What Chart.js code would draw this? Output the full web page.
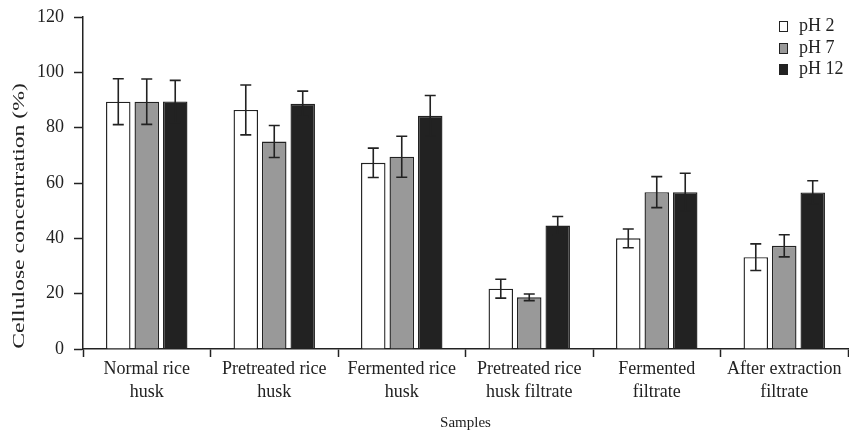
<!DOCTYPE html>
<html>
<head>
<meta charset="utf-8">
<script src="https://cdn.jsdelivr.net/npm/chart.js@4.4.0/dist/chart.umd.min.js"></script>
<style>
	body { margin: 0; background: #fff; }
	#wrap { position: relative; width: 849px; height: 432px; }
	#legend { position: absolute; left: 779px; top: 15px; font-family: "Liberation Serif", serif; font-size: 18px; color: #222; }
	#legend div { height: 21.5px; line-height: 21.5px; white-space: nowrap; }
	#legend span { display: inline-block; width: 7px; height: 9px; border: 1.3px solid #222; margin-right: 11px; vertical-align: -1px; }
</style>
</head>
<body>
<div id="wrap">
	<canvas id="myCanvas" width="849" height="432"></canvas>
	<div id="legend"></div>
</div>
<script>
const samples = [
	["Normal rice", "husk"],
	["Pretreated rice", "husk"],
	["Fermented rice", "husk"],
	["Pretreated rice", "husk filtrate"],
	["Fermented", "filtrate"],
	["After extraction", "filtrate"],
];

const ph2 = [89.4, 86.4, 67.3, 21.8, 40.0, 33.2];
const ph2Err = [8.3, 9.0, 5.3, 3.4, 3.4, 4.8];
const ph7 = [89.4, 75.0, 69.5, 18.7, 56.7, 37.3];
const ph7Err = [8.2, 5.8, 7.4, 1.2, 5.6, 4.0];
const ph12 = [89.5, 88.6, 84.3, 44.6, 56.7, 56.6];
const ph12Err = [7.6, 4.6, 7.3, 3.3, 6.8, 4.2];

const yTicks = [0, 20, 40, 60, 80, 100, 120];
const yTitle = "Cellulose concentration (%)";

const serif = "'Liberation Serif', 'Times New Roman', serif";
const ink = "#222222";

// whiskers drawn from the same arrays, through the y scale
const errorBars = {
	id: "errorBars",
	afterDatasetsDraw(chart) {
		const c = chart.ctx;
		const y = chart.scales.y;
		c.save();
		c.strokeStyle = ink;
		c.lineWidth = 1.6;
		chart.data.datasets.forEach((ds, i) => {
			const meta = chart.getDatasetMeta(i);
			meta.data.forEach((bar, j) => {
				const top = y.getPixelForValue(ds.data[j] + ds.errors[j]);
				const bot = y.getPixelForValue(ds.data[j] - ds.errors[j]);
				c.beginPath();
				c.moveTo(bar.x, top);
				c.lineTo(bar.x, bot);
				c.moveTo(bar.x - 5.5, top);
				c.lineTo(bar.x + 5.5, top);
				c.moveTo(bar.x - 5.5, bot);
				c.lineTo(bar.x + 5.5, bot);
				c.stroke();
			});
		});
		c.restore();
	},
};

// the y title in the figure is set in a long, narrow face: draw it stretched
const sideTitle = {
	id: "sideTitle",
	afterDraw(chart) {
		const c = chart.ctx;
		c.save();
		c.translate(20, 216);
		c.rotate(-Math.PI / 2);
		c.scale(1.48, 1);
		c.font = "16px " + serif;
		c.fillStyle = ink;
		c.textAlign = "center";
		c.textBaseline = "middle";
		c.fillText(yTitle, 0, 0);
		c.restore();
	},
};

const datasets = [
	{ label: "pH 2", data: ph2, errors: ph2Err, backgroundColor: "#ffffff" },
	{ label: "pH 7", data: ph7, errors: ph7Err, backgroundColor: "#999999" },
	{ label: "pH 12", data: ph12, errors: ph12Err, backgroundColor: "#222222" },
];
datasets.forEach((d) => {
	d.borderColor = ink;
	d.borderWidth = 1.4;
	d.barPercentage = 0.86;
	d.categoryPercentage = 0.67;
});

document.getElementById("legend").innerHTML = datasets
	.map((d) => `<div><span style="background:${d.backgroundColor}"></span>${d.label}</div>`)
	.join("");

const ctx = document.getElementById("myCanvas").getContext("2d");
const myChart = new Chart(ctx, {
	type: "bar",
	data: { labels: samples, datasets: datasets },
	options: {
		responsive: false,
		animation: false,
		events: [],
		layout: { padding: { top: 17, right: 1, left: 0, bottom: 0 } },
		plugins: { legend: { display: false }, tooltip: { enabled: false } },
		scales: {
			x: {
				grid: { drawOnChartArea: false, drawTicks: true, tickLength: 8, tickColor: ink, tickWidth: 1.5, offset: true },
				border: { color: ink, width: 1.5 },
				ticks: { color: ink, font: { family: serif, size: 18, lineHeight: 1.28 }, padding: 1, maxRotation: 0, autoSkip: false },
				title: { display: true, text: "Samples", color: ink, font: { family: serif, size: 15 }, padding: { top: 0, bottom: 0 } },
				afterFit(scale) { scale.height = 83; },
			},
			y: {
				min: 0,
				max: 120,
				afterBuildTicks(scale) { scale.ticks = yTicks.map((v) => ({ value: v })); },
				grid: { drawOnChartArea: false, drawTicks: true, tickLength: 9, tickColor: ink, tickWidth: 1.5 },
				border: { color: ink, width: 1.5 },
				// small lineHeight keeps the label padding from pushing the plot top down
				ticks: { color: ink, font: { family: serif, size: 18, lineHeight: 0.7 }, padding: 10 },
				afterFit(scale) { scale.width = 83; },
			},
		},
	},
	plugins: [errorBars, sideTitle],
});
</script>
</body>
</html>
